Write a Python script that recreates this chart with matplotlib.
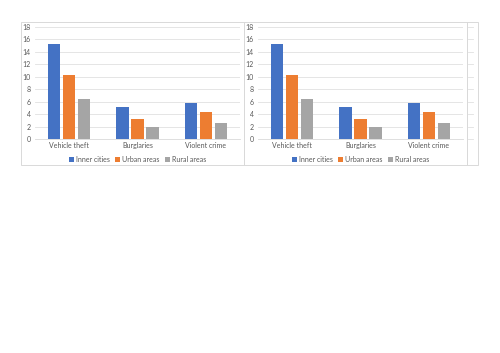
import matplotlib
matplotlib.use("Agg")
import matplotlib.pyplot as plt
import numpy as np
from matplotlib.patches import Rectangle
from matplotlib.lines import Line2D

categories = ["Vehicle theft", "Burglaries", "Violent crime"]
series_names = ["Inner cities", "Urban areas", "Rural areas"]
inner_cities = [15.3, 5.2, 5.8]
urban_areas = [10.3, 3.2, 4.3]
rural_areas = [6.5, 1.9, 2.6]
yticks = [0, 2, 4, 6, 8, 10, 12, 14, 16, 18]

colors = ["#4472C4", "#ED7D31", "#A5A5A5"]
text_col = "#595959"
grid_col = "#E0E0E0"

plt.rcParams['font.family'] = ['Lato', 'DejaVu Sans']

W, H = 500, 353
fig = plt.figure(figsize=(W / 100, H / 100), dpi=100)

def fx(px):
    return px / W

def fy(py):
    return 1 - py / H

# chart boxes
for (x0, x1) in [(21, 244), (244, 467), (467, 478)]:
    fig.patches.append(Rectangle((fx(x0), fy(165)), fx(x1) - fx(x0), fy(22) - fy(165),
                                 transform=fig.transFigure, fill=False,
                                 edgecolor="#D9D9D9", linewidth=0.7))

def draw_chart(left_px, right_px):
    ax = fig.add_axes([fx(left_px), fy(139), fx(right_px) - fx(left_px), fy(27) - fy(139)])
    x = np.arange(len(categories))
    w = 0.18
    step = 0.22
    for i, (vals, name) in enumerate(zip([inner_cities, urban_areas, rural_areas], series_names)):
        ax.bar(x + (i - 1) * step, vals, width=w, color=colors[i], label=name, zorder=3)
    ax.set_xlim(-0.5, 2.5)
    ax.set_ylim(0, 18)
    ax.set_yticks(yticks)
    ax.set_xticks(x)
    ax.set_xticklabels(categories)
    ax.tick_params(axis='both', length=0, labelsize=5.0, colors=text_col)
    ax.tick_params(axis='y', pad=3)
    ax.tick_params(axis='x', pad=2)
    ax.grid(axis='y', color=grid_col, linewidth=0.6, zorder=0)
    for s in ["top", "right", "left"]:
        ax.spines[s].set_visible(False)
    ax.spines["bottom"].set_color("#D9D9D9")
    ax.spines["bottom"].set_linewidth(0.6)
    leg_y = (fy(159) - fy(139)) / (fy(27) - fy(139))
    ax.legend(loc="center", bbox_to_anchor=(0.5, leg_y), ncol=3, frameon=False,
              fontsize=5.0, labelcolor=text_col, handlelength=0.7, handleheight=0.7,
              handletextpad=0.3, columnspacing=0.8, borderaxespad=0)
    return ax

ax1 = draw_chart(35, 240)
ax2 = draw_chart(258, 463)

# short gridline stubs of the partly hidden chart at the right edge
for t in yticks:
    disp = ax2.transData.transform((0, t))
    yf = fig.transFigure.inverted().transform(disp)[1]
    fig.add_artist(Line2D([fx(468), fx(473)], [yf, yf], transform=fig.transFigure,
                          color=grid_col, linewidth=0.6))

fig.savefig("out.png", dpi=100)
